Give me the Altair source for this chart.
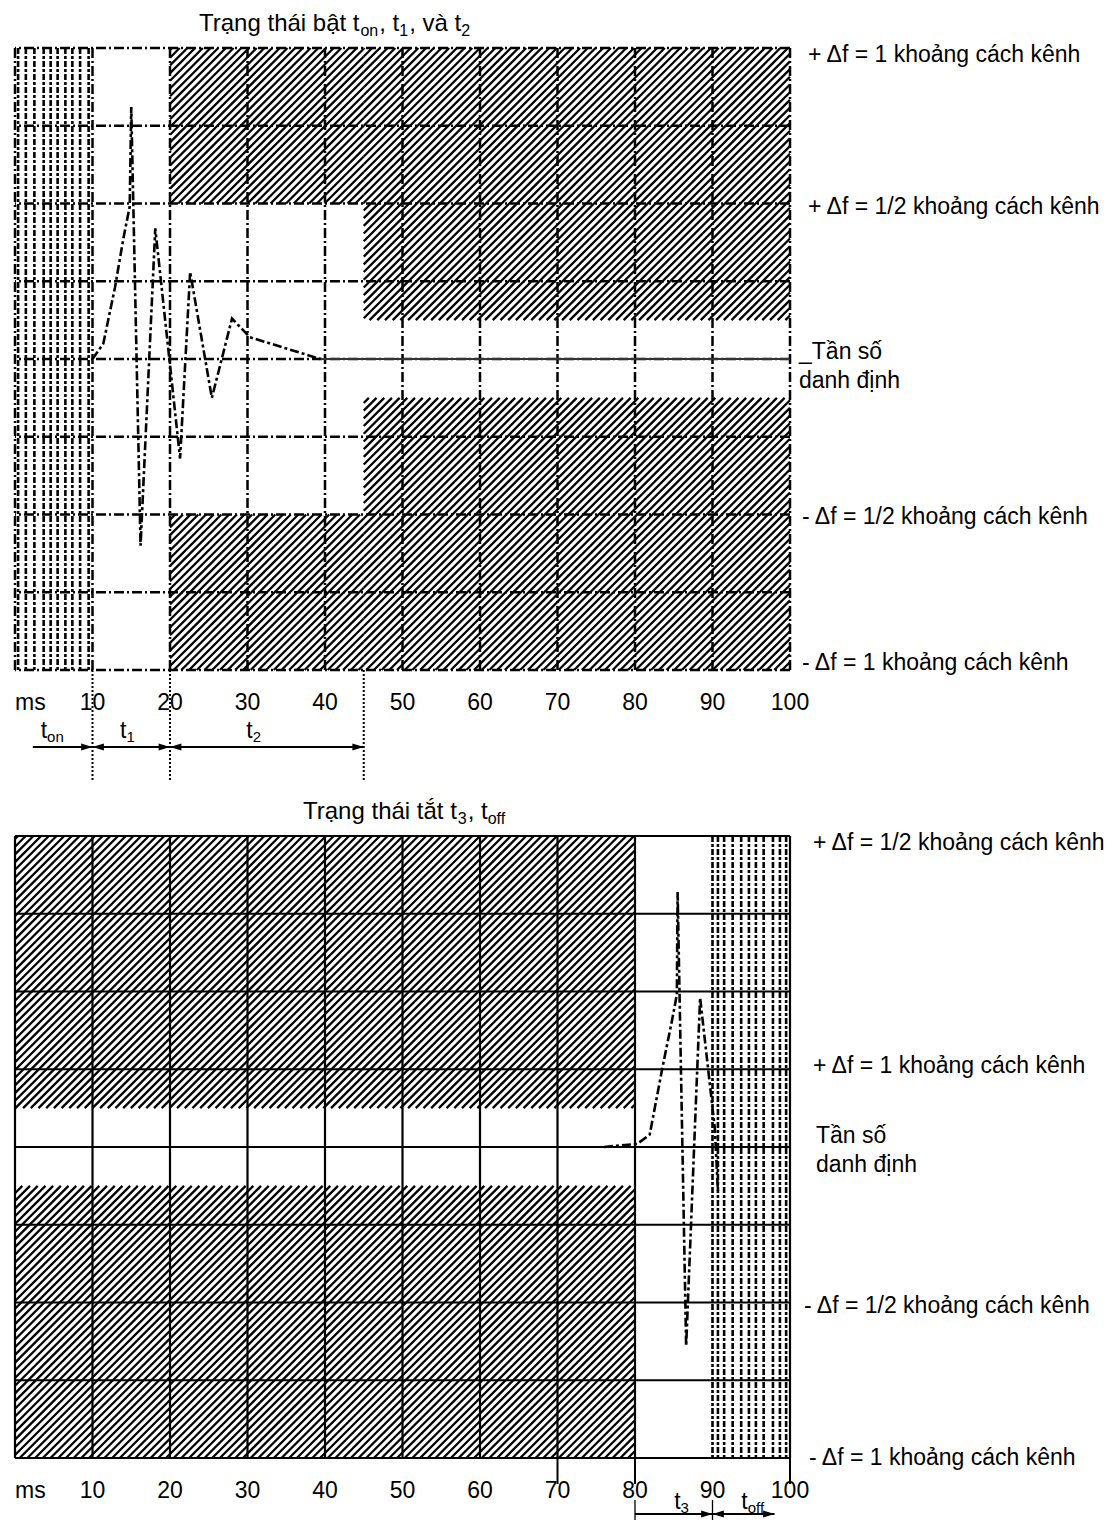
import math
import unicodedata
import altair as alt
import pandas as pd

W, H = 775, 622
FONT = "Liberation Sans"

# ---------------- data ----------------
x_ticks = [10, 20, 30, 40, 50, 60, 70, 80, 90, 100]
x_grid = [0, 10, 20, 30, 40, 50, 60, 70, 80, 90, 100]
y_grid = [-1, -0.75, -0.5, -0.25, 0, 0.25, 0.5, 0.75, 1]
x_unit = "ms"

# top panel: switch-on transient (ms, fraction of channel spacing)
top_x = [10, 11.4, 12.9, 14.0, 14.8, 15.0, 16.2, 18.1, 21.3, 22.6, 25.4, 28.0, 30.3, 34.2, 39.4]
top_y = [0, 0.05, 0.23, 0.39, 0.49, 0.81, -0.6, 0.42, -0.32, 0.28, -0.125, 0.13, 0.07, 0.04, 0]
# bottom panel: switch-off transient
bot_x = [76, 80.3, 81.9, 83.5, 84.8, 85.4, 85.5, 86.6, 88.4, 90.3, 90.7]
bot_y = [0, 0.01, 0.04, 0.25, 0.41, 0.49, 0.82, -0.64, 0.48, 0.06, -0.14]

# forbidden (hatched) zones: x0, x1, y0, y1
top_masks = [(20, 45, 0.5, 1), (20, 45, -1, -0.5), (45, 100, 0.125, 1), (45, 100, -1, -0.125)]
bot_masks = [(0, 80, 0.125, 1), (0, 80, -1, -0.125)]
# dense vertical line zones
top_dense = [0.4, 1.4, 2.5, 3.7, 4.6, 5.5, 6.5, 7.4, 8.4, 9.5]
bot_dense = [90.7, 91.5, 92.6, 93.7, 94.7, 95.6, 96.6, 97.8, 98.7, 99.5]

top_label_y = [1, 0.5, 0, -0.5, -1]
top_label_txt = ["+ \u0394f = 1 kho\u1ea3ng c\u00e1ch k\u00eanh", "+ \u0394f = 1/2 kho\u1ea3ng c\u00e1ch k\u00eanh",
                 "_T\u1ea7n s\u1ed1\ndanh \u0111\u1ecbnh", "- \u0394f = 1/2 kho\u1ea3ng c\u00e1ch k\u00eanh",
                 "- \u0394f = 1 kho\u1ea3ng c\u00e1ch k\u00eanh"]
bot_label_y = [1, 0.25, 0, -0.5, -1]
bot_label_txt = ["+ \u0394f = 1/2 kho\u1ea3ng c\u00e1ch k\u00eanh", "+ \u0394f = 1 kho\u1ea3ng c\u00e1ch k\u00eanh",
                 "T\u1ea7n s\u1ed1\ndanh \u0111\u1ecbnh", "- \u0394f = 1/2 kho\u1ea3ng c\u00e1ch k\u00eanh",
                 "- \u0394f = 1 kho\u1ea3ng c\u00e1ch k\u00eanh"]

# time segments below the panels
top_segs = [(2.3, 10), (10, 20), (20, 45)]
top_seg_names = [("t", "on"), ("t", "1"), ("t", "2")]
top_seg_label_x = [4.8, 14.5, 30.8]
top_marks = [10, 20, 45]
bot_segs = [(80, 90), (90, 98)]
bot_seg_names = [("t", "3"), ("t", "off")]
bot_seg_label_x = [86.0, 95.2]
bot_ext = [70, 80, 100]
bot_marks = [80, 90]

top_title = [("Tr\u1ea1ng th\u00e1i b\u1eadt t", False), ("on", True), (", t", False), ("1", True),
             (", v\u00e0 t", False), ("2", True)]
bot_title = [("Tr\u1ea1ng th\u00e1i t\u1eaft t", False), ("3", True), (", t", False), ("off", True)]

# ---------------- helpers ----------------
xs = alt.Scale(domain=[0, 100], nice=False, zero=False)
ys = alt.Scale(domain=[-1, 1], nice=False, zero=False)
KX, KY, STEP = W / 100.0, H / 2.0, 7.7
TITLE_SIZE = 24
LABEL_SIZE = 23

AW = {' ': 278, ',': 278, 'T': 611, 'r': 333, 'a': 556, 'n': 556, 'g': 556, 'h': 556, 'i': 222,
      'b': 556, 't': 278, 'v': 500, 'o': 556, 'f': 278, '1': 556, '2': 556, '3': 556, 'c': 500, 'k': 500}


def tw(s, size):
    return sum(AW.get(unicodedata.normalize('NFD', ch)[0], 556) for ch in s) * size / 1000.0


def hatch(masks):
    rows = []
    for (x0, x1, y0, y1) in masks:
        u0, u1, v0, v1 = x0 * KX, x1 * KX, y0 * KY, y1 * KY
        for k in range(math.ceil((u0 - v1) / STEP), math.floor((u1 - v0) / STEP) + 1):
            c = k * STEP
            ua, ub = max(u0, v0 + c), min(u1, v1 + c)
            if ub - ua > 0.5:
                rows.append({'hx': ua / KX, 'hy': (ua - c) / KY, 'hx2': ub / KX, 'hy2': (ub - c) / KY})
    return pd.DataFrame(rows)


ONE = pd.DataFrame({'o': [0]})
XN = dict(scale=xs, axis=None)
YN = dict(scale=ys, axis=None)


def text_piece(txt, x, y, size):
    return alt.Chart(ONE).mark_text(text=txt, x=x, y=y, align="left", baseline="alphabetic",
                                    font=FONT, fontSize=size, color="black")


def title_layers(pieces, x0, y0):
    out = []
    x = x0
    for txt, sub in pieces:
        size = 16 if sub else TITLE_SIZE
        out.append(text_piece(txt, x, y0 + (5 if sub else 0), size))
        x += tw(txt, size) + (1 if sub else 0)
    return out


def tick_label_layers():
    d = pd.DataFrame({'tx': x_ticks, 'tl': [str(v) for v in x_ticks]})
    lab = alt.Chart(d).mark_text(align="center", baseline="alphabetic", font=FONT, fontSize=23,
                                 color="black").encode(x=alt.X('tx:Q', **XN), y=alt.value(H + 40), text='tl:N')
    unit = alt.Chart(pd.DataFrame({'ux': [0]})).mark_text(
        text=x_unit, align="left", baseline="alphabetic", font=FONT, fontSize=23, color="black").encode(
        x=alt.X('ux:Q', **XN), y=alt.value(H + 40))
    return [lab, unit]


def arrow_layers(segs, names, label_x, ypx, ylab):
    out = []
    sd = pd.DataFrame({'a': [s[0] for s in segs], 'b': [s[1] for s in segs]})
    out.append(alt.Chart(sd).mark_rule(color="black", strokeWidth=2).encode(
        x=alt.X('a:Q', **XN), x2='b:Q', y=alt.value(ypx)))
    right_tips = pd.DataFrame({'t': [s[1] for s in segs]})
    left_tips = pd.DataFrame({'t': [s[0] for s in segs[1:]]})
    out.append(alt.Chart(right_tips).mark_point(shape="M0,0L-1,-0.3L-1,0.3Z", filled=True, size=520,
                                                 color="black", opacity=1, strokeWidth=0).encode(
        x=alt.X('t:Q', **XN), y=alt.value(ypx)))
    out.append(alt.Chart(left_tips).mark_point(shape="M0,0L1,-0.3L1,0.3Z", filled=True, size=520,
                                                color="black", opacity=1, strokeWidth=0).encode(
        x=alt.X('t:Q', **XN), y=alt.value(ypx)))
    for (main, sub), lx in zip(names, label_x):
        total = tw(main, 23) + tw(sub, 15)
        d = pd.DataFrame({'lx': [lx]})
        out.append(alt.Chart(d).mark_text(text=main, align="left", baseline="alphabetic", dx=-total / 2,
                                          font=FONT, fontSize=23, color="black").encode(
            x=alt.X('lx:Q', **XN), y=alt.value(ylab)))
        out.append(alt.Chart(d).mark_text(text=sub, align="left", baseline="alphabetic",
                                          dx=-total / 2 + tw(main, 23), font=FONT, fontSize=15,
                                          color="black").encode(
            x=alt.X('lx:Q', **XN), y=alt.value(ylab + 4)))
    return out


def right_labels(ys_list, txts, xpx, dys):
    out = []
    for yv, t, xp, dy in zip(ys_list, txts, xpx, dys):
        d = pd.DataFrame({'ly': [yv]})
        out.append(alt.Chart(d).mark_text(text=t, x=xp, dy=dy, align="left", baseline="middle",
                                          lineBreak="\n", lineHeight=29, font=FONT, fontSize=LABEL_SIZE,
                                          color="black").encode(y=alt.Y('ly:Q', **YN)))
    return out


def hatch_layer(masks):
    return alt.Chart(hatch(masks)).mark_rule(color="black", strokeWidth=2.3).encode(
        x=alt.X('hx:Q', **XN), y=alt.Y('hy:Q', **YN), x2='hx2:Q', y2='hy2:Q')


def dense_layer(vals):
    return alt.Chart(pd.DataFrame({'dx': vals})).mark_rule(
        color="black", strokeWidth=2.6, strokeDash=[6, 2, 3, 2]).encode(x=alt.X('dx:Q', **XN))


# ---------------- top panel ----------------
DASHDOT = [10, 3, 2, 3]
top_layers = [hatch_layer(top_masks), dense_layer(top_dense)]
top_layers.append(alt.Chart(pd.DataFrame({'gx': x_grid})).mark_rule(
    color="black", strokeWidth=2.5, strokeDash=DASHDOT).encode(x=alt.X('gx:Q', **XN)))
top_layers.append(alt.Chart(pd.DataFrame({'gy': y_grid})).mark_rule(
    color="black", strokeWidth=2.5, strokeDash=DASHDOT).encode(y=alt.Y('gy:Q', **YN)))
top_layers.append(alt.Chart(pd.DataFrame({'a': [top_x[-1]], 'b': [100], 'c': [0]})).mark_rule(
    color="#333333", strokeWidth=2).encode(x=alt.X('a:Q', **XN), x2='b:Q', y=alt.Y('c:Q', **YN)))
top_layers.append(alt.Chart(pd.DataFrame({'sx': top_x, 'sy': top_y})).mark_line(
    color="black", strokeWidth=2.6, strokeDash=[9, 3, 3, 3]).encode(
    x=alt.X('sx:Q', **XN), y=alt.Y('sy:Q', **YN)))
top_layers.append(alt.Chart(pd.DataFrame({'mx': top_marks})).mark_rule(
    color="black", strokeWidth=2, strokeDash=[2, 2]).encode(
    x=alt.X('mx:Q', **XN), y=alt.value(H), y2=alt.value(H + 110)))
top_layers += tick_label_layers()
top_layers += arrow_layers(top_segs, top_seg_names, top_seg_label_x, H + 77, H + 68)
top_layers += right_labels(top_label_y, top_label_txt, [793, 793, 784, 787, 787], [7, 3.5, -7, 2.5, -7])
top_layers += title_layers(top_title, 184, -17)
top = alt.layer(*top_layers).properties(width=W, height=H)

# ---------------- bottom panel ----------------
bot_layers = [hatch_layer(bot_masks), dense_layer(bot_dense + [90])]
bot_layers.append(alt.Chart(pd.DataFrame({'gx': [v for v in x_grid if v != 90]})).mark_rule(
    color="black", strokeWidth=2.2).encode(x=alt.X('gx:Q', **XN)))
bot_layers.append(alt.Chart(pd.DataFrame({'gy': y_grid})).mark_rule(
    color="black", strokeWidth=2.2).encode(y=alt.Y('gy:Q', **YN)))
bot_layers.append(alt.Chart(pd.DataFrame({'sx': bot_x, 'sy': bot_y})).mark_line(
    color="black", strokeWidth=2.6, strokeDash=[9, 3, 3, 3]).encode(
    x=alt.X('sx:Q', **XN), y=alt.Y('sy:Q', **YN)))
bot_layers.append(alt.Chart(pd.DataFrame({'ex': bot_ext})).mark_rule(
    color="black", strokeWidth=2).encode(x=alt.X('ex:Q', **XN), y=alt.value(H), y2=alt.value(H + 26)))
bot_layers.append(alt.Chart(pd.DataFrame({'mx': bot_marks})).mark_rule(
    color="black", strokeWidth=1.3).encode(x=alt.X('mx:Q', **XN), y=alt.value(H + 42), y2=alt.value(H + 62)))
bot_layers += tick_label_layers()
bot_layers += arrow_layers(bot_segs, bot_seg_names, bot_seg_label_x, H + 56, H + 51)
bot_layers += right_labels(bot_label_y, bot_label_txt, [798, 798, 801, 789, 794], [7, -3, -11, 3, 0])
bot_layers += title_layers(bot_title, 288, -17)
bottom = alt.layer(*bot_layers).properties(width=W, height=H)

chart = alt.vconcat(top, bottom, spacing=166, bounds="flush").properties(
    padding={"left": 5, "top": 4, "right": 0, "bottom": 0}
).configure_view(stroke=None)

chart.save("out.html", embed_options={"renderer": "svg", "actions": False})
